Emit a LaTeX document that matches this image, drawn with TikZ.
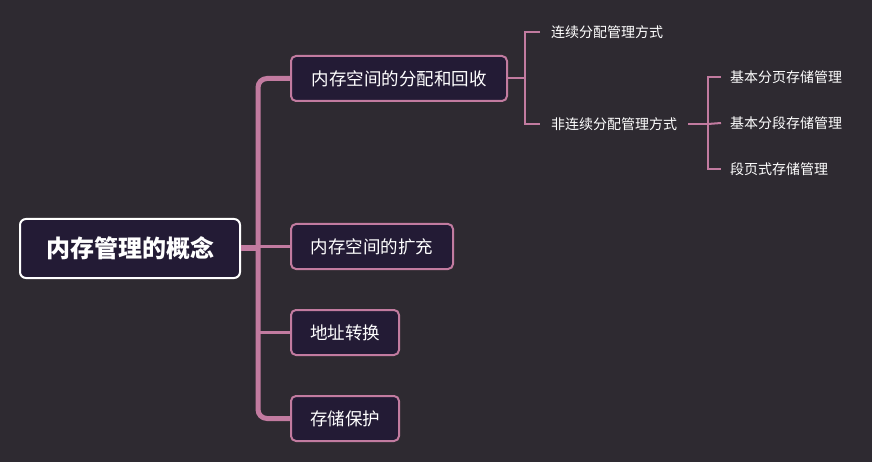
\documentclass[tikz,border=0pt]{standalone}
\usepackage{fontspec}
\setmainfont{Noto Sans CJK SC}
\definecolor{bgc}{HTML}{2E2A31}
\definecolor{boxc}{HTML}{231B35}
\definecolor{pinkc}{HTML}{C27BA0}
\begin{document}
\begin{tikzpicture}[x=1pt,y=-1pt,
  rootbox/.style={draw=white,line width=2pt,fill=boxc,rounded corners=6pt,text=white,
    font=\fontsize{24}{28}\selectfont\bfseries,minimum width=220pt,minimum height=59pt,inner sep=0pt},
  subbox/.style={draw=pinkc,line width=2pt,fill=boxc,rounded corners=5pt,text=white,
    font=\fontsize{17.5}{21}\selectfont,minimum height=45pt,inner sep=0pt,anchor=west},
  leaf/.style={text=white,font=\fontsize{14}{17}\selectfont,inner xsep=11pt,inner ysep=2pt,anchor=west},
  thin/.style={draw=pinkc,line width=2pt},
  branch/.style={draw=pinkc,line width=3pt},
  trunk/.style={draw=pinkc,line width=5pt}]
\fill[bgc] (0,0) rectangle (872,462);
\useasboundingbox (0,0) rectangle (872,462);
% nodes
\node[rootbox] (root) at (130,248.5) {内存管理的概念};
\node[subbox,minimum width=216pt] (c1) at (290,78.5) {内存空间的分配和回收};
\node[subbox,minimum width=162pt] (c2) at (290,246.5) {内存空间的扩充};
\node[subbox,minimum width=108pt] (c3) at (290,332.5) {地址转换};
\node[subbox,minimum width=108pt] (c4) at (290,418.5) {存储保护};
\node[leaf] (l1) at (540,32) {连续分配管理方式};
\node[leaf] (l2) at (540,124) {非连续分配管理方式};
\node[leaf,inner xsep=9pt] (m1) at (721,77) {基本分页存储管理};
\node[leaf,inner xsep=9pt] (m2) at (721,123) {基本分段存储管理};
\node[leaf,inner xsep=9pt] (m3) at (721,169) {段页式存储管理};
% trunk
\coordinate (tt) at (258,78.5);
\coordinate (tb) at (258,418.5);
\draw[trunk,rounded corners=9pt] (c1.west) -- (tt) -- (tb) -- (c4.west);
\draw[branch] (c3.west) -- (258,332.5);
\draw[branch] (c2.west) -- (258,246.5);
\draw[draw=pinkc,line width=6pt] (root.east) -- (258,248.5);
% level 2
\coordinate (j1) at (525,78.5);
\draw[thin] (c1.east) -- (j1);
\draw[thin] (l1.west) -| (j1) |- (l2.west);
\coordinate (j2) at (708,124);
\draw[thin] (l2.east) -- (j2);
\draw[thin] (m1.west) -| (j2) |- (m3.west);
\draw[thin] (j2) -- (m2.west);
\end{tikzpicture}
\end{document}
